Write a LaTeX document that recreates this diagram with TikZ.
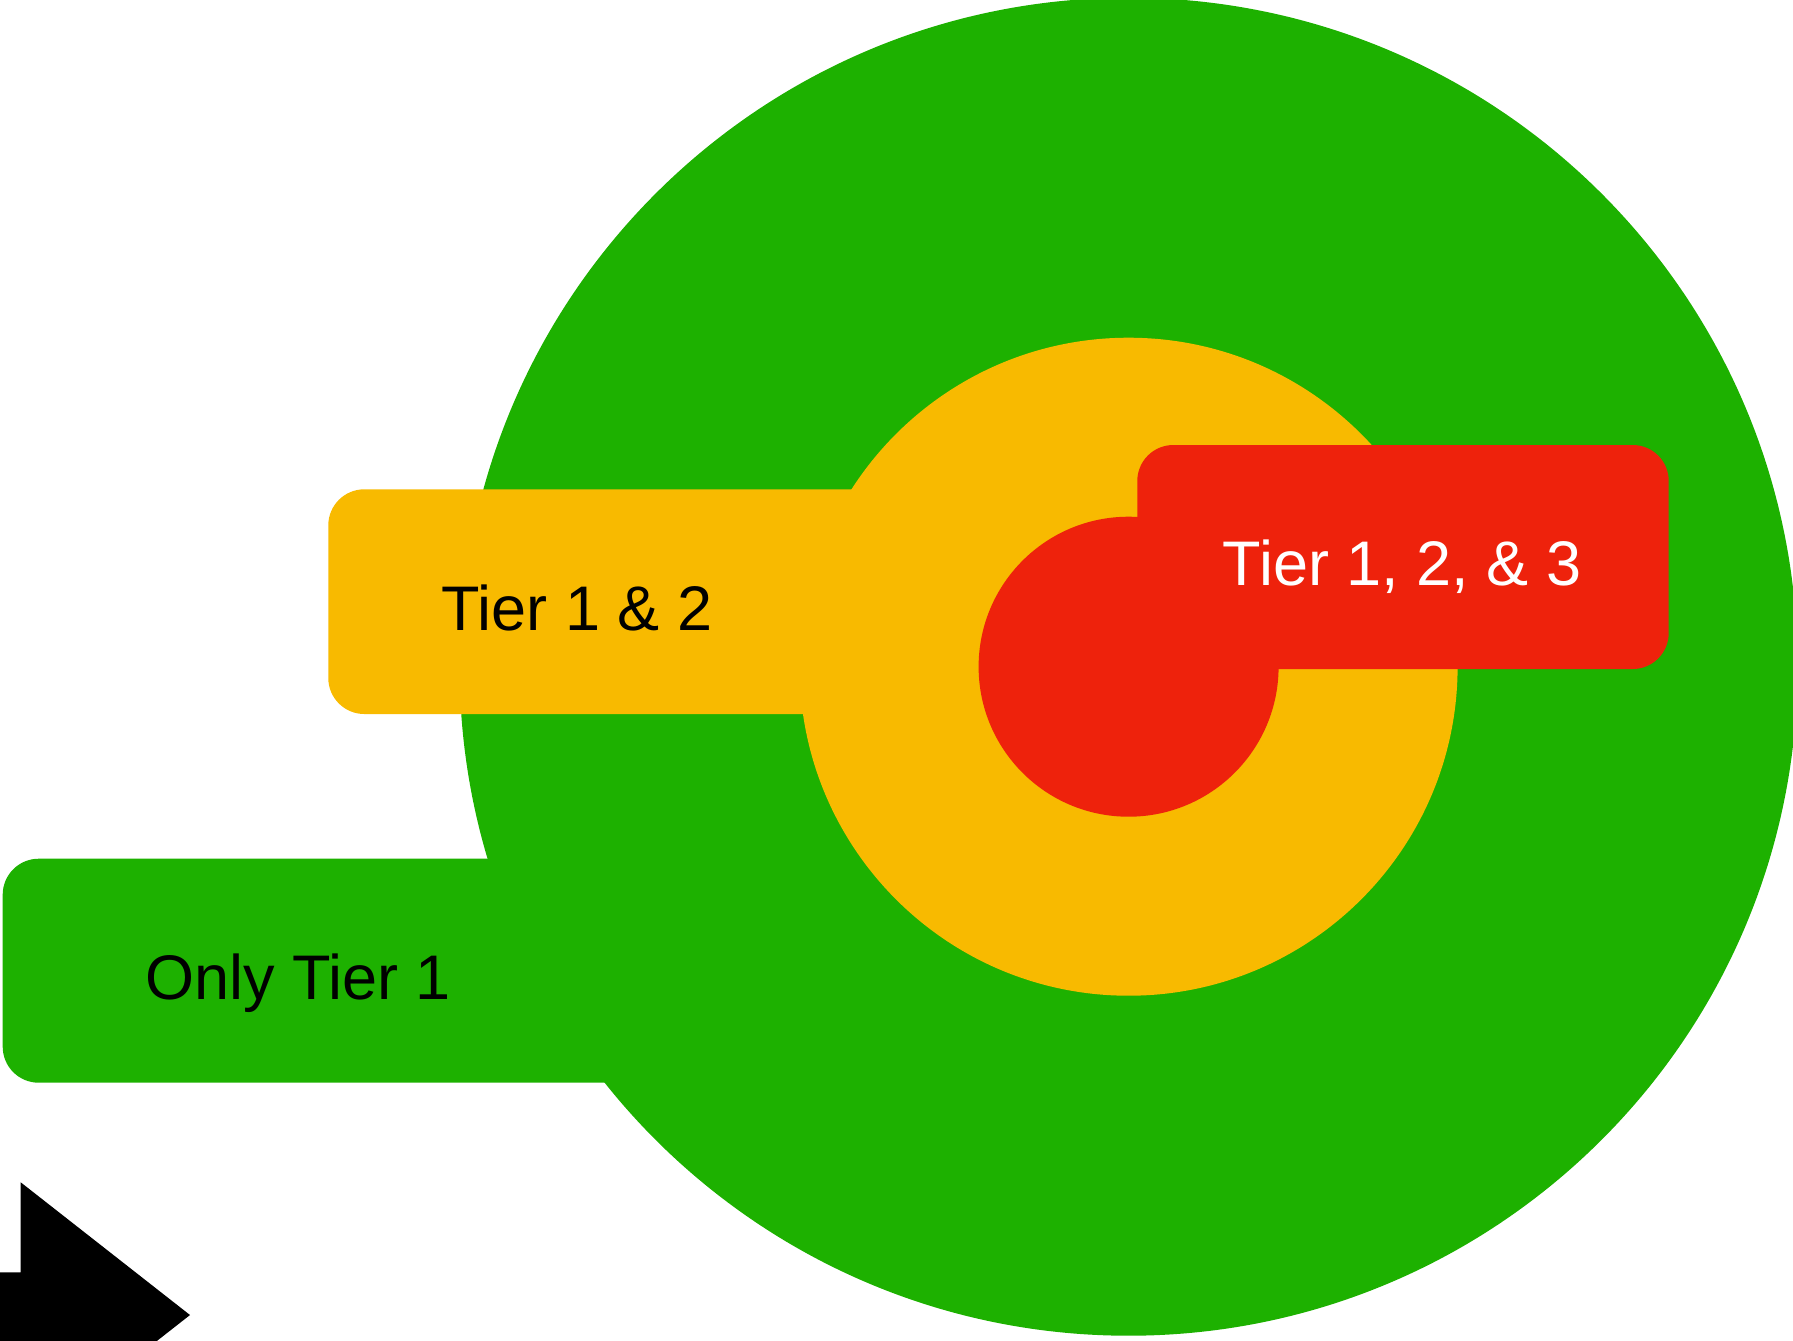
\documentclass[tikz,border=0pt]{standalone}
\usepackage{fontspec}
\setmainfont{Liberation Sans}
\definecolor{tgreen}{HTML}{1DB100}
\definecolor{tyellow}{HTML}{F8BA00}
\definecolor{tred}{HTML}{EE220C}
\tikzset{
  tierlabel/.style={inner sep=0pt, anchor=base, font=\fontsize{31.5pt}{36pt}\selectfont},
  tab/.style={rounded corners=18pt}
}
\begin{document}
\begin{tikzpicture}[x=0.5pt, y=-0.5pt]
  \useasboundingbox (0,0) rectangle (1793,1340);
  \clip (0,0) rectangle (1793,1340);
  % outer tier
  \fill[tgreen] (1128.6,666.7) circle[radius=669];
  \fill[tgreen, tab] (2.7,858.7) rectangle (820,1082.7);
  % middle tier
  \fill[tyellow] (1128.6,666.7) circle[radius=329];
  \fill[tyellow, tab] (328.3,489.3) rectangle (1000,714);
  % inner tier
  \fill[tred] (1128.6,666.7) circle[radius=150];
  \fill[tred, tab] (1137.3,445) rectangle (1668.7,669);
  % labels, placed by their baselines
  \node[tierlabel, text=black] (t1) at (297.9,999) {Only Tier 1};
  \node[tierlabel, text=black] (t12) at (577.2,630) {Tier 1 \& 2};
  \node[tierlabel, text=white] (t123) at (1402,585) {Tier 1, 2, \& 3};
  % arrow in the lower left corner
  \fill[black] (-50,1272.3) -- (20.7,1272.3) -- (20.7,1182.3) -- (190,1315)
    -- (20.7,1447.7) -- (20.7,1357.7) -- (-50,1357.7) -- cycle;
\end{tikzpicture}
\end{document}
